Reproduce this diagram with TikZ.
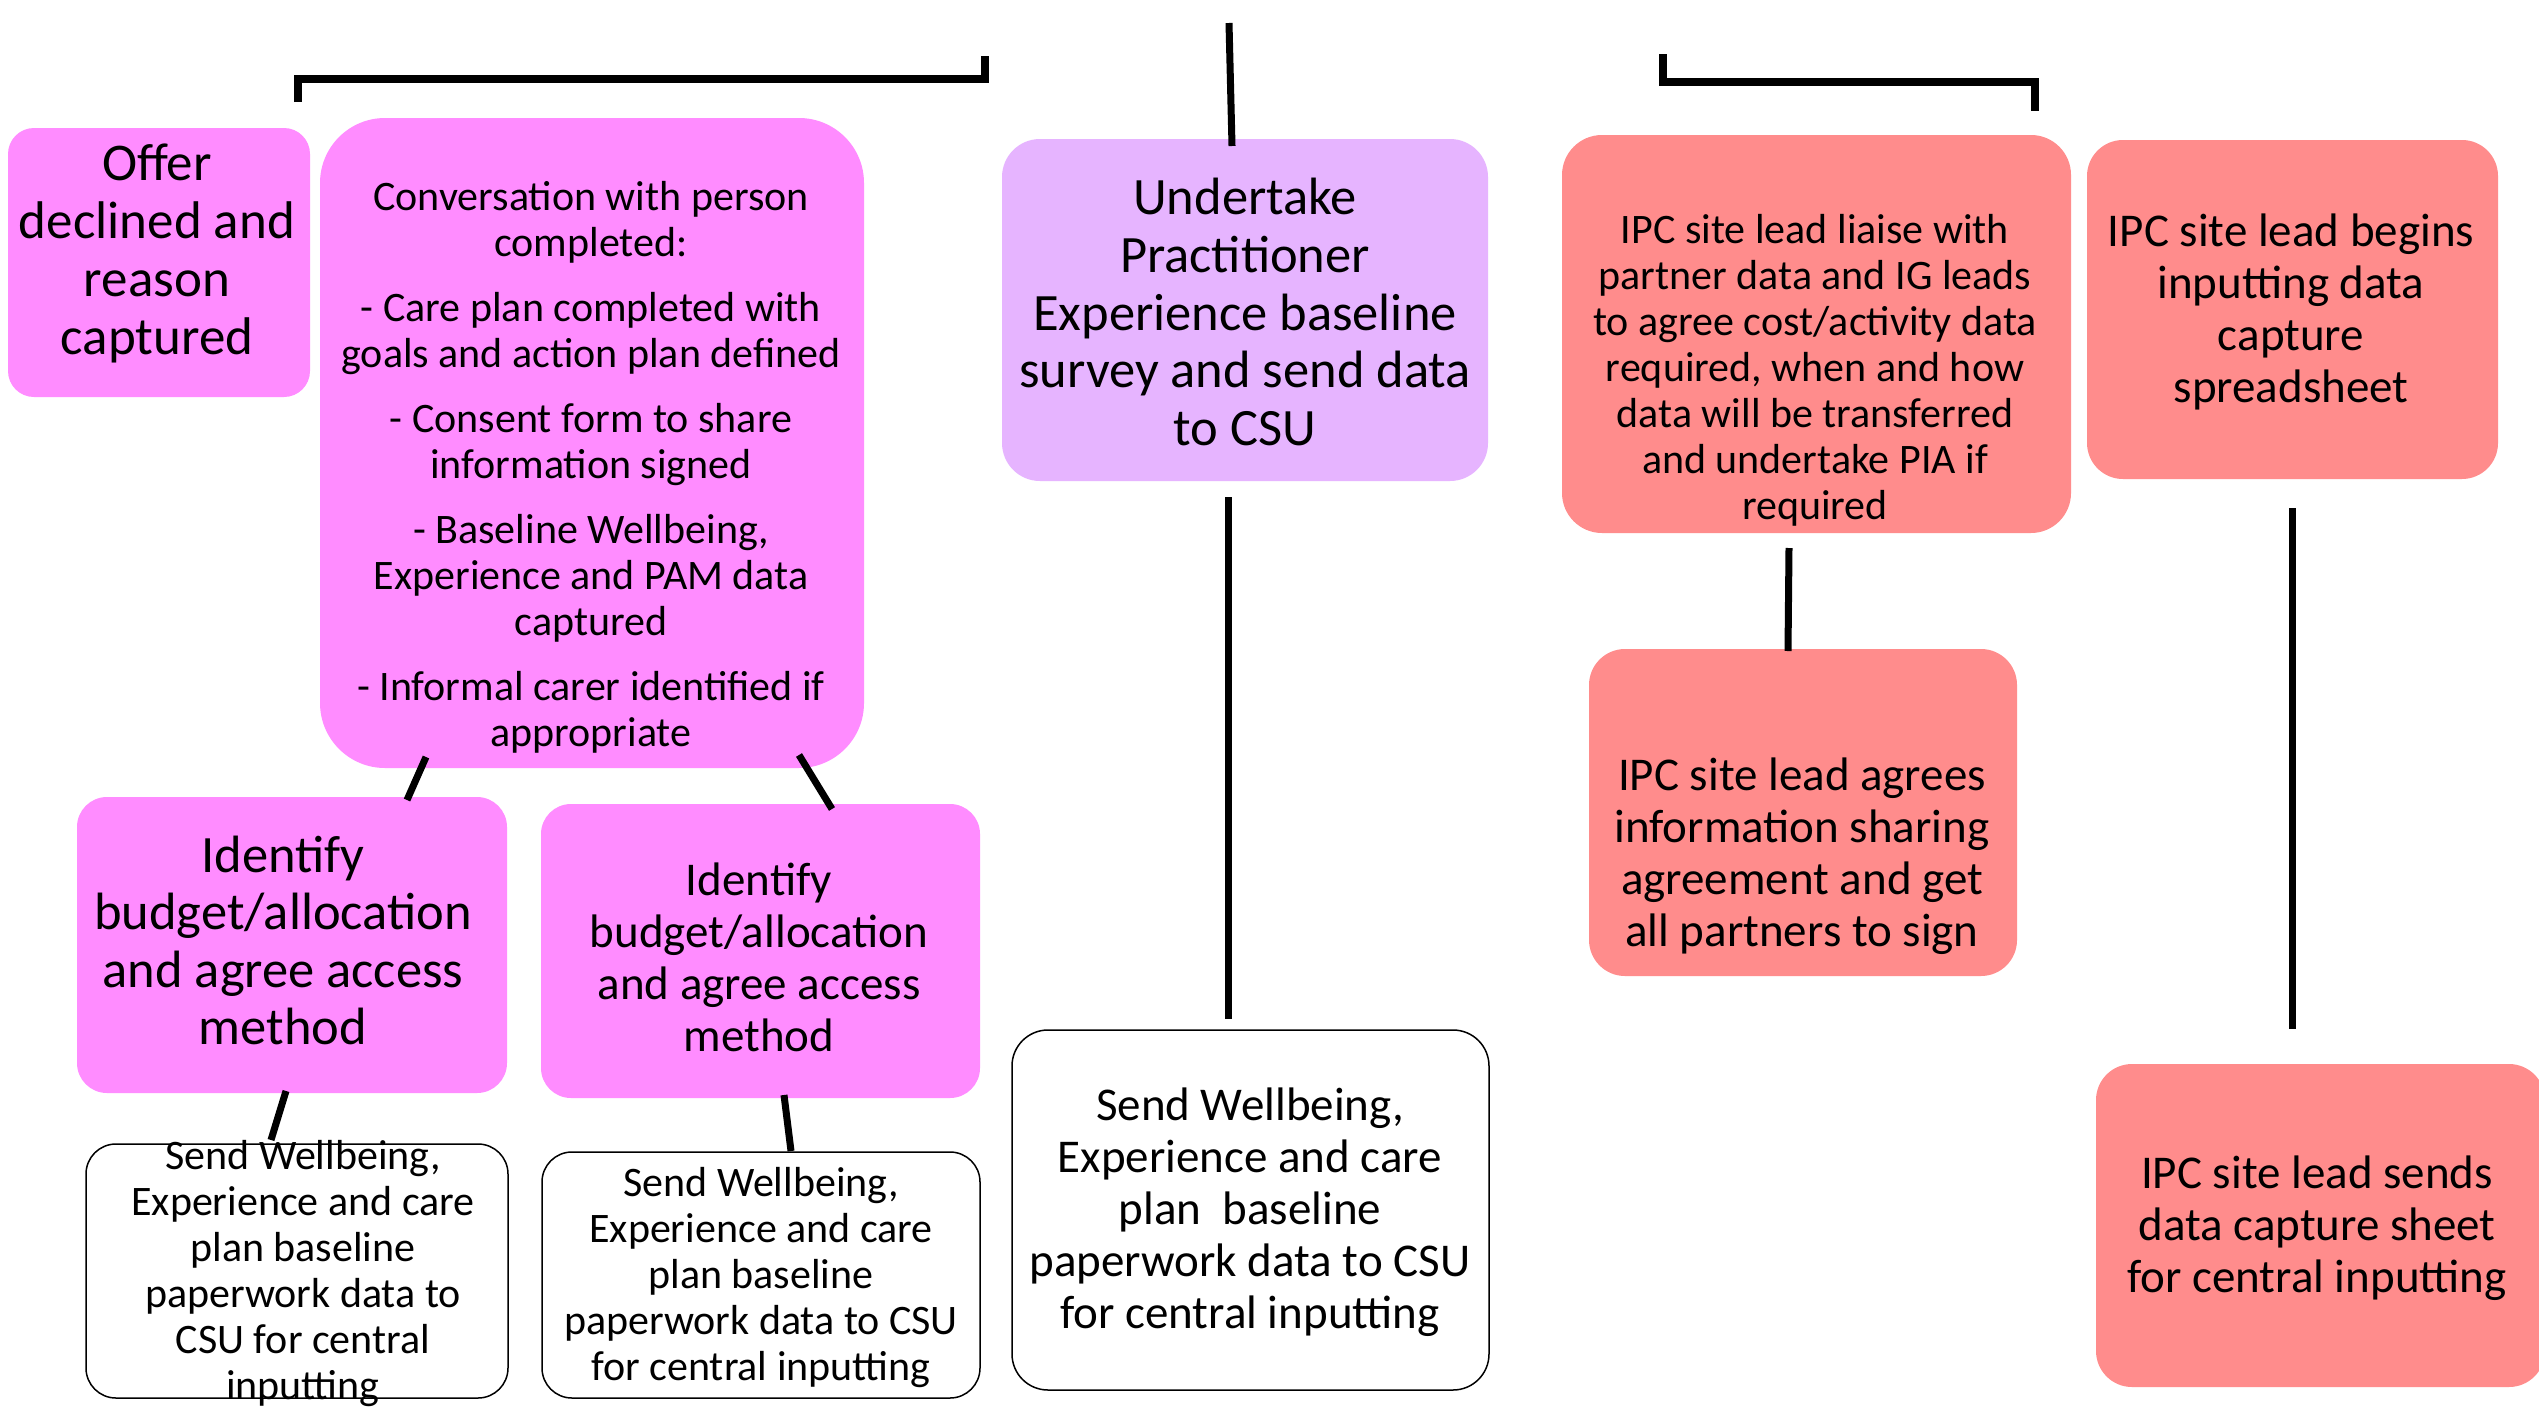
\documentclass[tikz,border=0pt]{standalone}
\usepackage{fontspec}
\setmainfont{Carlito}
\newcommand\myfs[2]{\fontsize{#1}{#2}\selectfont}
\definecolor{pinkc}{RGB}{255,140,255}
\definecolor{lavc}{RGB}{230,180,255}
\definecolor{salc}{RGB}{255,140,140}
\tikzset{
  box/.style={rectangle, rounded corners=30pt, inner sep=0pt, draw=none},
  pinkbox/.style={box, fill=pinkc},
  lavbox/.style={box, fill=lavc, rounded corners=38pt},
  salbox/.style={box, fill=salc, rounded corners=36pt},
  sendbox/.style={box, fill=white, draw=black, line width=1.5pt},
  txt/.style={inner sep=0pt, align=center, text=black, yshift=-3pt},
  conn/.style={line width=7pt, black},
  bracket/.style={line width=8pt, black, line join=miter}
}
\begin{document}
\begin{tikzpicture}[x=1pt,y=-1pt]
\useasboundingbox (0,0) rectangle (2539,1408);
\fill[white] (0,0) rectangle (2539,1408);

% boxes
\node[pinkbox, minimum width=302pt, minimum height=269pt, rounded corners=26pt] (offer) at (159,262.5) {};
\node[pinkbox, minimum width=544pt, minimum height=650pt, rounded corners=65pt] (conv) at (592,443) {};
\node[pinkbox, minimum width=430pt, minimum height=296pt] (id1) at (292,945) {};
\node[pinkbox, minimum width=439pt, minimum height=294pt] (id2) at (760.5,951) {};
\node[sendbox, minimum width=422pt, minimum height=254pt] (send1) at (297,1271) {};
\node[sendbox, minimum width=438pt, minimum height=246pt] (send2) at (761,1275) {};
\node[lavbox, minimum width=486pt, minimum height=342pt] (und) at (1245,310) {};
\node[sendbox, minimum width=477pt, minimum height=360pt, rounded corners=36pt] (send3) at (1250.5,1210) {};
\node[salbox, minimum width=509pt, minimum height=398pt, rounded corners=40pt] (liaise) at (1816.5,334) {};
\node[salbox, minimum width=411pt, minimum height=339pt] (begins) at (2292.5,309.5) {};
\node[salbox, minimum width=428pt, minimum height=327pt] (agrees) at (1803,812.5) {};
\node[salbox, minimum width=449pt, minimum height=323pt] (sends) at (2320.5,1225.5) {};

% texts
\node[txt, font=\myfs{53}{58}] (offer-t) at (157,250) {Offer\\declined and\\reason\\captured};
\node[txt, font=\myfs{42}{46}] (conv-t) at (591,464) {Conversation with person\\completed:\\[19pt]- Care plan completed with\\goals and action plan defined\\[19pt]- Consent form to share\\information signed\\[19pt]- Baseline Wellbeing,\\Experience and PAM data\\captured\\[19pt]- Informal carer identified if\\appropriate};
\node[txt, font=\myfs{52.5}{57.6}] (id1-t) at (283,937.5) {Identify\\budget/allocation\\and agree access\\method};
\node[txt, font=\myfs{47}{52}] (id2-t) at (759,954) {Identify\\budget/allocation\\and agree access\\method};
\node[txt, font=\myfs{42}{46}] (send1-t) at (303,1271) {Send Wellbeing,\\Experience and care\\plan baseline\\paperwork data to\\CSU for central\\inputting};
\node[txt, font=\myfs{42}{46}] (send2-t) at (761,1275) {Send Wellbeing,\\Experience and care\\plan baseline\\paperwork data to CSU\\for central inputting};
\node[txt, font=\myfs{52.5}{57.6}] (und-t) at (1245,309) {Undertake\\Practitioner\\Experience baseline\\survey and send data\\to CSU};
\node[txt, font=\myfs{47}{52}] (send3-t) at (1250,1209) {Send Wellbeing,\\Experience and care\\plan\ \ baseline\\paperwork data to CSU\\for central inputting};
\node[txt, font=\myfs{42}{46}] (liaise-t) at (1815,367.5) {IPC site lead liaise with\\partner data and IG leads\\to agree cost/activity data\\required, when and how\\data will be transferred\\and undertake PIA if\\required};
\node[txt, font=\myfs{47}{52}] (begins-t) at (2291,309) {IPC site lead begins\\inputting data\\capture\\spreadsheet};
\node[txt, font=\myfs{47}{52}] (agrees-t) at (1802,853) {IPC site lead agrees\\information sharing\\agreement and get\\all partners to sign};
\node[txt, font=\myfs{47}{52}] (sends-t) at (2317,1225.5) {IPC site lead sends\\data capture sheet\\for central inputting};

% connector end points
\coordinate (bl1) at (298,102);
\coordinate (bl2) at (298,79);
\coordinate (bl3) at (985,79);
\coordinate (bl4) at (985,56);
\coordinate (br1) at (1663,54);
\coordinate (br2) at (1663,82);
\coordinate (br3) at (2035,82);
\coordinate (br4) at (2035,111);
\coordinate (tv1) at (1229,23);
\coordinate (tv2) at (1232,146);
\coordinate (c1a) at (426,757);
\coordinate (c1b) at (407,800);
\coordinate (c2a) at (799,755);
\coordinate (c2b) at (832,809);
\coordinate (c3a) at (286,1091);
\coordinate (c3b) at (271,1140);
\coordinate (c4a) at (784,1095);
\coordinate (c4b) at (791,1151);
\coordinate (c5a) at (1228,497);
\coordinate (c5b) at (1228,1019);
\coordinate (c6a) at (1789,548);
\coordinate (c6b) at (1788,651);
\coordinate (c7a) at (2292,508);
\coordinate (c7b) at (2292,1029);

% connectors
\draw[bracket] (bl1) -- (bl2) -- (bl3) -- (bl4);
\draw[bracket] (br1) -- (br2) -- (br3) -- (br4);
\draw[conn] (tv1) -- (tv2);
\draw[conn] (c1a) -- (c1b);
\draw[conn] (c2a) -- (c2b);
\draw[conn] (c3a) -- (c3b);
\draw[conn] (c4a) -- (c4b);
\draw[conn] (c5a) -- (c5b);
\draw[conn] (c6a) -- (c6b);
\draw[conn] (c7a) -- (c7b);
\end{tikzpicture}
\end{document}
